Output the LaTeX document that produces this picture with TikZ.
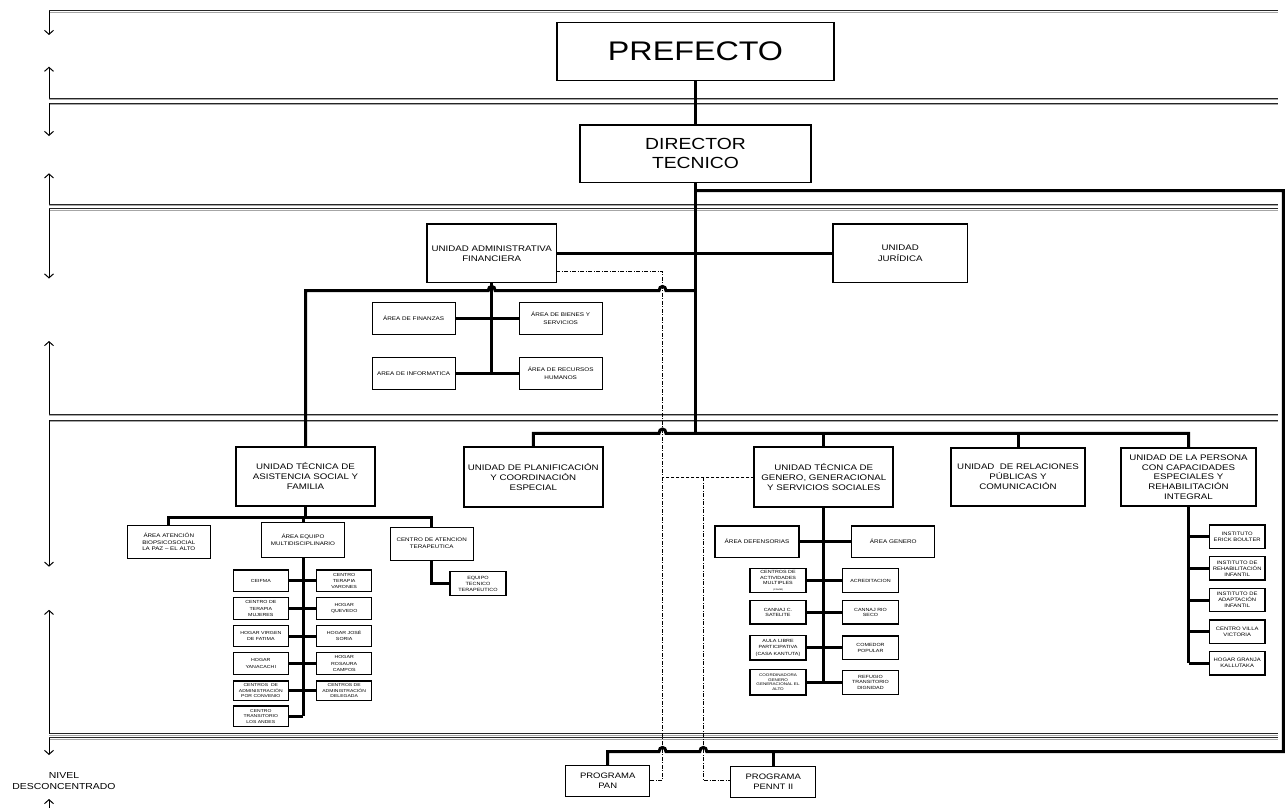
\documentclass[tikz,border=0pt]{standalone}
\usepackage{fontspec}
\setmainfont{Liberation Sans}[FakeStretch=1.2]
\usetikzlibrary{arrows.meta}
\newcommand{\myfs}[2]{\fontsize{#1}{#2}\selectfont}
\begin{document}
\begin{tikzpicture}[x=1pt,y=-1pt,
  cbox/.style={draw, fill=white, align=center, inner sep=0pt, outer sep=0pt, line width=1.2pt},
  ubox/.style={cbox, line width=2pt, font=\myfs{8.1}{10}},
  tbox/.style={cbox, line width=1.5pt},
  abox/.style={cbox, line width=1.5pt, font=\myfs{8.1}{10}},
  areabox/.style={cbox, font=\myfs{5.3}{8}, minimum width=83pt, minimum height=32pt},
  midbox/.style={cbox, font=\myfs{5.2}{7}, minimum width=83pt, minimum height=33pt},
  mbox/.style={cbox, font=\myfs{4.4}{6.2}, minimum width=55pt, minimum height=21.5pt},
  gbox/.style={cbox, font=\myfs{4.5}{5.6}, minimum width=56pt, minimum height=24pt},
  pbox/.style={cbox, font=\myfs{4.9}{6}, minimum width=55.7pt, minimum height=23.3pt},
  progbox/.style={cbox, line width=1pt, font=\myfs{7.9}{10}, minimum width=84pt, minimum height=31pt},
  conn/.style={line width=3pt},
  bandline/.style={line width=1pt, black!85},
  bandshade/.style={line width=0.8pt, black!35},
  larrow/.style={line width=1pt, -{Straight Barb[length=4pt,width=9pt]}},
  dotdashline/.style={line width=0.8pt, dash pattern=on 4pt off 1.5pt on 1pt off 1.5pt},
  dashedline/.style={line width=0.8pt, dash pattern=on 3pt off 2pt},
]
\useasboundingbox (0,0) rectangle (1288,808);

% bands
\foreach \yy in {11,98.3,103.3,204.3,208.5,414,420,733.5,737.5} {
  \draw[bandshade] (49,{\yy+1.4}) -- (1278,{\yy+1.4});
  \draw[bandline] (49,\yy) -- (1278,\yy);
}
\draw[larrow] (49,11) -- (49,35);
\draw[larrow] (49,98.3) -- (49,66.7);
\draw[larrow] (49,103.3) -- (49,136);
\draw[larrow] (49,204.3) -- (49,173.3);
\draw[larrow] (49,208.5) -- (49,278.5);
\draw[larrow] (49,414) -- (49,341);
\draw[larrow] (49,420) -- (49,566.7);
\draw[larrow] (49,733.5) -- (49,609.8);
\draw[larrow] (49,737.5) -- (49,755);
\draw[larrow] (49,808) -- (49,799);
\node[align=center, inner sep=0pt, font=\myfs{8.7}{11}] (nivel) at (64,781.5) {NIVEL\\DESCONCENTRADO};

% top
\node[tbox, minimum width=277pt, minimum height=58pt, font=\myfs{26.9}{30}] (pref) at (695.5,51.7) {PREFECTO};
\node[tbox, minimum width=231pt, minimum height=57.7pt, font=\myfs{16.1}{19}] (dir) at (695.5,153.8) {DIRECTOR\\TECNICO};

% admin level
\node[abox, minimum width=129.3pt, minimum height=58.7pt] (adm) at (491.7,253.3) {UNIDAD ADMINISTRATIVA\\FINANCIERA};
\node[abox, minimum width=134.4pt, minimum height=58.7pt, font=\myfs{8.1}{11}] (jur) at (900.2,253.3) {UNIDAD\\JURÍDICA};
\node[areabox] (fin) at (413.6,318.7) {ÁREA DE FINANZAS};
\node[areabox] (bien) at (560.7,318.7) {ÁREA DE BIENES Y\\SERVICIOS};
\node[areabox] (inf) at (413.6,373.3) {AREA DE INFORMATICA};
\node[areabox] (rec) at (560.7,373.3) {ÁREA DE RECURSOS\\HUMANOS};

% units
\node[ubox, minimum width=139pt, minimum height=59.3pt] (asis) at (305.5,476.3) {UNIDAD TÉCNICA DE\\ASISTENCIA SOCIAL Y\\FAMILIA};
\node[ubox, minimum width=138.7pt, minimum height=59.4pt] (plan) at (533.3,477) {UNIDAD DE PLANIFICACIÓN\\Y COORDINACIÓN\\ESPECIAL};
\node[ubox, minimum width=139pt, minimum height=59.4pt] (gen) at (823.8,477) {UNIDAD TÉCNICA DE\\GENERO, GENERACIONAL\\Y SERVICIOS SOCIALES};
\node[ubox, minimum width=134pt, minimum height=57.7pt] (rel) at (1018,477.2) {UNIDAD\ \ DE RELACIONES\\PÚBLICAS Y\\COMUNICACIÓN};
\node[ubox, minimum width=134.4pt, minimum height=57.7pt, font=\myfs{8.1}{9.7}] (per) at (1188.5,477.2) {UNIDAD DE LA PERSONA\\CON CAPACIDADES\\ESPECIALES Y\\REHABILITACIÓN\\INTEGRAL};

% asistencia subtree
\node[midbox, font=\myfs{5.2}{6.4}] (bio) at (168.8,542) {ÁREA ATENCIÓN\\BIOPSICOSOCIAL\\LA PAZ – EL ALTO};
\node[midbox, minimum height=34.6pt] (mul) at (303,540) {ÁREA EQUIPO\\MULTIDISCIPLINARIO};
\node[midbox] (cat) at (431.7,543.7) {CENTRO DE ATENCION\\TERAPEUTICA};
\node[cbox, font=\myfs{4.6}{6.2}, minimum width=56pt, minimum height=24pt] (eq) at (478,583.7) {EQUIPO\\TECNICO\\TERAPEUTICO};

\node[mbox] (m1l) at (260.8,580.8) {CEIFMA};
\node[mbox] (m1r) at (344.2,580.8) {CENTRO\\TERAPIA\\VARONES};
\node[mbox] (m2l) at (260.8,608.5) {CENTRO DE\\TERAPIA\\MUJERES};
\node[mbox] (m2r) at (344.2,608.5) {HOGAR\\QUEVEDO};
\node[mbox] (m3l) at (260.8,636) {HOGAR VIRGEN\\DE FATIMA};
\node[mbox] (m3r) at (344.2,636) {HOGAR JOSÉ\\SORIA};
\node[mbox] (m4l) at (260.8,663.5) {HOGAR\\YANACACHI};
\node[mbox] (m4r) at (344.2,663.5) {HOGAR\\ROSAURA\\CAMPOS};
\node[mbox, minimum height=19.7pt, font=\myfs{4.2}{5.7}] (m5l) at (260.8,690.8) {CENTROS\ \ DE\\ADMINISTRACIÓN\\POR CONVENIO};
\node[mbox, minimum height=19.7pt, font=\myfs{4.2}{5.7}] (m5r) at (344.2,690.8) {CENTROS DE\\ADMINISTRACIÓN\\DELEGADA};
\node[mbox, minimum height=20.7pt, font=\myfs{4.2}{5.7}] (m6l) at (260.8,716.3) {CENTRO\\TRANSITORIO\\LOS ANDES};

% genero subtree
\node[areabox, minimum width=84pt, minimum height=31.3pt] (def) at (757,541.7) {ÁREA DEFENSORIAS};
\node[areabox, minimum height=31.3pt] (agen) at (893.3,541.7) {ÁREA GENERO};
\node[gbox, minimum height=24.4pt] (g1l) at (778,580.5) {CENTROS DE\\ACTIVIDADES\\MULTIPLES\\{\myfs{2.2}{4}(CAMM)}};
\node[gbox, minimum width=55.6pt, minimum height=24.4pt] (g1r) at (870.5,580.5) {ACREDITACION};
\node[gbox, minimum height=23.3pt] (g2l) at (778,612.3) {CANNAJ C.\\SATELITE};
\node[gbox, minimum width=55.6pt, minimum height=23.3pt] (g2r) at (870.5,612.3) {CANNAJ RIO\\SECO};
\node[gbox, minimum height=24.3pt, font=\myfs{4.5}{6.3}] (g3l) at (778,647.8) {AULA LIBRE\\PARTICIPATIVA\\(CASA KANTUTA)};
\node[gbox, minimum width=55.6pt, minimum height=23.5pt] (g3r) at (870.5,647.8) {COMEDOR\\POPULAR};
\node[gbox, minimum height=25.7pt, font=\myfs{3.8}{4.5}] (g4l) at (778,682.2) {COORDINADORA\\GENERO\\GENERACIONAL EL\\ALTO};
\node[gbox, minimum width=55.6pt, minimum height=24pt] (g4r) at (870.5,682.2) {REFUGIO\\TRANSITORIO\\DIGNIDAD};

% persona subtree
\node[pbox] (p1) at (1237.2,536.7) {INSTITUTO\\ERICK BOULTER};
\node[pbox] (p2) at (1237.2,568.3) {INSTITUTO DE\\REHABILITACIÓN\\INFANTIL};
\node[pbox] (p3) at (1237.2,600) {INSTITUTO DE\\ADAPTACIÓN\\INFANTIL};
\node[pbox] (p4) at (1237.2,631.7) {CENTRO VILLA\\VICTORIA};
\node[pbox] (p5) at (1237.2,663.3) {HOGAR GRANJA\\KALLUTAKA};

% programs
\node[progbox] (pan) at (607.7,781.2) {PROGRAMA\\PAN};
\node[progbox, minimum width=85pt] (pen) at (773.3,781.5) {PROGRAMA\\PENNT II};

% coordinates
\coordinate (jA) at (695.5,190.7);
\coordinate (jB) at (1283.3,190.7);
\coordinate (jC) at (1283.3,751.7);
\coordinate (h2) at (695.5,290.7);
\coordinate (h3) at (695.5,433.3);
\coordinate (asb) at (305.5,517.7);
\coordinate (d1) at (662.5,271);
\coordinate (d2) at (662.5,780.5);
\coordinate (e1) at (662.5,477.3);
\coordinate (e2) at (703.3,477.3);
\coordinate (e3) at (703.3,780.5);

% dashed links
\draw[dotdashline] (adm.east |- d1) -- (d1) -- (d2) -- (pan.east |- d2);
\draw[dashedline] (gen.west |- e1) -- (e1);
\draw[dotdashline] (e2) -- (e3) -- (pen.west |- e3);

% main connectors
\draw[line width=2.5pt] (pref.south) -- (dir.north);
\draw[conn] (dir.south) -- ([yshift=-1.5pt]h3);
\draw[conn] (adm.east) -- (jur.west);
\draw[conn] (h2) -- (666,290.7) .. controls (666,285) and (659,285) .. (659,290.7)
  -- (495.2,290.7) .. controls (495.2,285) and (488.2,285) .. (488.2,290.7)
  -- (305.5,290.7) -- (asis.north);
\draw[conn] (plan.north) -- (533.3,433.3) -- (659,433.3) .. controls (659,427.6) and (666,427.6) .. (666,433.3)
  -- (1188.5,433.3) -- (per.north);
\draw[conn] (gen.north) -- (gen.north |- h3);
\draw[conn] (rel.north) -- (rel.north |- h3);
\draw[conn] (pan.north) -- (607.7,751.7) -- (659,751.7) .. controls (659,746) and (666,746) .. (666,751.7)
  -- (699.8,751.7) .. controls (699.8,746) and (706.8,746) .. (706.8,751.7) -- (jC) -- (jB) -- (jA);
\draw[conn] (pen.north) -- (pen.north |- jC);

% admin subtree
\draw[conn] (adm.south) -- (adm.south |- inf.east);
\draw[conn] (fin.east) -- (bien.west);
\draw[conn] (inf.east) -- (rec.west);

% asistencia subtree
\draw[conn] (asis.south) -- (asb);
\draw[conn] (bio.north) |- (asb) -| (cat.north);
\draw[conn] (mul.north) -- (mul.north |- asb);
\draw[conn] (cat.south) |- (eq.west);
\draw[conn] (mul.south) -- (mul.south |- m6l.east);
\draw[conn] (m1l.east) -- (m1r.west);
\draw[conn] (m2l.east) -- (m2r.west);
\draw[conn] (m3l.east) -- (m3r.west);
\draw[conn] (m4l.east) -- (m4r.west);
\draw[conn] (m5l.east) -- (m5r.west);
\draw[conn] (m6l.east) -- (mul.south |- m6l.east);

% genero subtree
\draw[conn] (gen.south) -- (gen.south |- g4l.east);
\draw[conn] (def.east) -- (agen.west);
\draw[conn] (g1l.east) -- (g1r.west);
\draw[conn] (g2l.east) -- (g2r.west);
\draw[conn] (g3l.east) -- (g3r.west);
\draw[conn] (g4l.east) -- (g4r.west);

% persona subtree
\draw[conn] (per.south) -- (per.south |- p5.west);
\draw[conn] (per.south |- p1.west) -- (p1.west);
\draw[conn] (per.south |- p2.west) -- (p2.west);
\draw[conn] (per.south |- p3.west) -- (p3.west);
\draw[conn] (per.south |- p4.west) -- (p4.west);
\draw[conn] (per.south |- p5.west) -- (p5.west);
\end{tikzpicture}
\end{document}
